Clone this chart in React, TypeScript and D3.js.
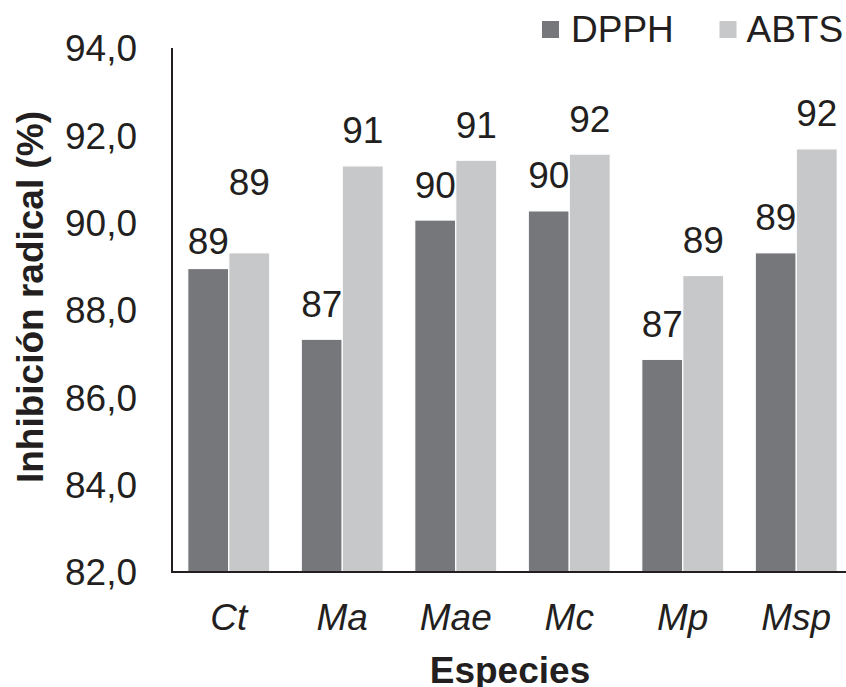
import React from "react";
import * as d3 from "d3";

const categories = ["Ct", "Ma", "Mae", "Mc", "Mp", "Msp"];
const seriesNames = ["DPPH", "ABTS"];
const dpph = [88.95, 87.33, 90.06, 90.27, 86.87, 89.31];
const abts = [89.31, 91.3, 91.43, 91.57, 88.79, 91.69];
const yTicks = [82, 84, 86, 88, 90, 92, 94];

const colors = { DPPH: "#76777b", ABTS: "#c7c8ca" };
const textColor = "#231f20";
const FONT = "'Liberation Sans', Arial, sans-serif";

// manual label placement (distance from bar top to label baseline)
const defaultLift = 22.5;
const liftOverride: Record<string, number[]> = { Ct: [15, 58] };

const W = 846;
const H = 687;
const left = 172;
const right = 853;
const top = 48;
const bottom = 572;

export default function App() {
  const x = d3
    .scaleBand<string>()
    .domain(categories)
    .range([left, right])
    .paddingInner(0.2775)
    .paddingOuter(0.1388);
  const xs = d3.scaleBand<string>().domain(seriesNames).range([0, x.bandwidth()]);
  const y = d3.scaleLinear().domain([82, 94]).range([bottom, top]);
  const fmt = (v: number) => d3.format(".1f")(v).replace(".", ",");
  const series = [
    { name: "DPPH", values: dpph },
    { name: "ABTS", values: abts },
  ];

  return (
    <svg
      width={W}
      height={H}
      style={{ position: "absolute", left: 0, top: 0, background: "#fff" }}
      fontFamily={FONT}
    >
      {/* bars */}
      {series.map((s, si) =>
        s.values.map((v, i) => {
          const c = categories[i];
          const bx = (x(c) as number) + (xs(s.name) as number);
          const by = y(v);
          return (
            <rect
              key={s.name + c}
              x={bx}
              y={by}
              width={xs.bandwidth()}
              height={bottom - by}
              fill={(colors as any)[s.name]}
              stroke="#fff"
              strokeWidth={1.2}
            />
          );
        })
      )}
      {/* data labels */}
      {series.map((s, si) =>
        s.values.map((v, i) => {
          const c = categories[i];
          const cx = (x(c) as number) + (xs(s.name) as number) + xs.bandwidth() / 2;
          const lift = liftOverride[c] ? liftOverride[c][si] : defaultLift;
          return (
            <text
              key={"l" + s.name + c}
              x={cx}
              y={y(v) - lift}
              textAnchor="middle"
              fontSize={37}
              fill={textColor}
            >
              {d3.format(".0f")(v)}
            </text>
          );
        })
      )}
      {/* axes */}
      <line x1={left} y1={top} x2={left} y2={bottom} stroke={textColor} strokeWidth={2} />
      <line x1={left - 1} y1={bottom} x2={W} y2={bottom} stroke={textColor} strokeWidth={2} />
      {yTicks.map((t) => (
        <text
          key={"t" + t}
          x={137}
          y={y(t)}
          dy="0.36em"
          textAnchor="end"
          fontSize={37}
          fill={textColor}
        >
          {fmt(t)}
        </text>
      ))}
      {categories.map((c) => (
        <text
          key={"c" + c}
          x={(x(c) as number) + x.bandwidth() / 2}
          y={630}
          textAnchor="middle"
          fontSize={37}
          fontStyle="italic"
          fill={textColor}
        >
          {c}
        </text>
      ))}
      <text x={510} y={683} textAnchor="middle" fontSize={37} fontWeight="bold" fill={textColor}>
        Especies
      </text>
      <text
        transform="translate(43,297) rotate(-90)"
        textAnchor="middle"
        fontSize={37}
        fontWeight="bold"
        fill={textColor}
      >
        Inhibición radical (%)
      </text>
      {/* legend */}
      <rect x={542} y={21} width={17} height={17} fill={colors.DPPH} />
      <text x={571} y={42} fontSize={37} fill={textColor}>DPPH</text>
      <rect x={719.5} y={21} width={17} height={17} fill={colors.ABTS} />
      <text x={746.5} y={42} fontSize={37} fill={textColor}>ABTS</text>
    </svg>
  );
}
